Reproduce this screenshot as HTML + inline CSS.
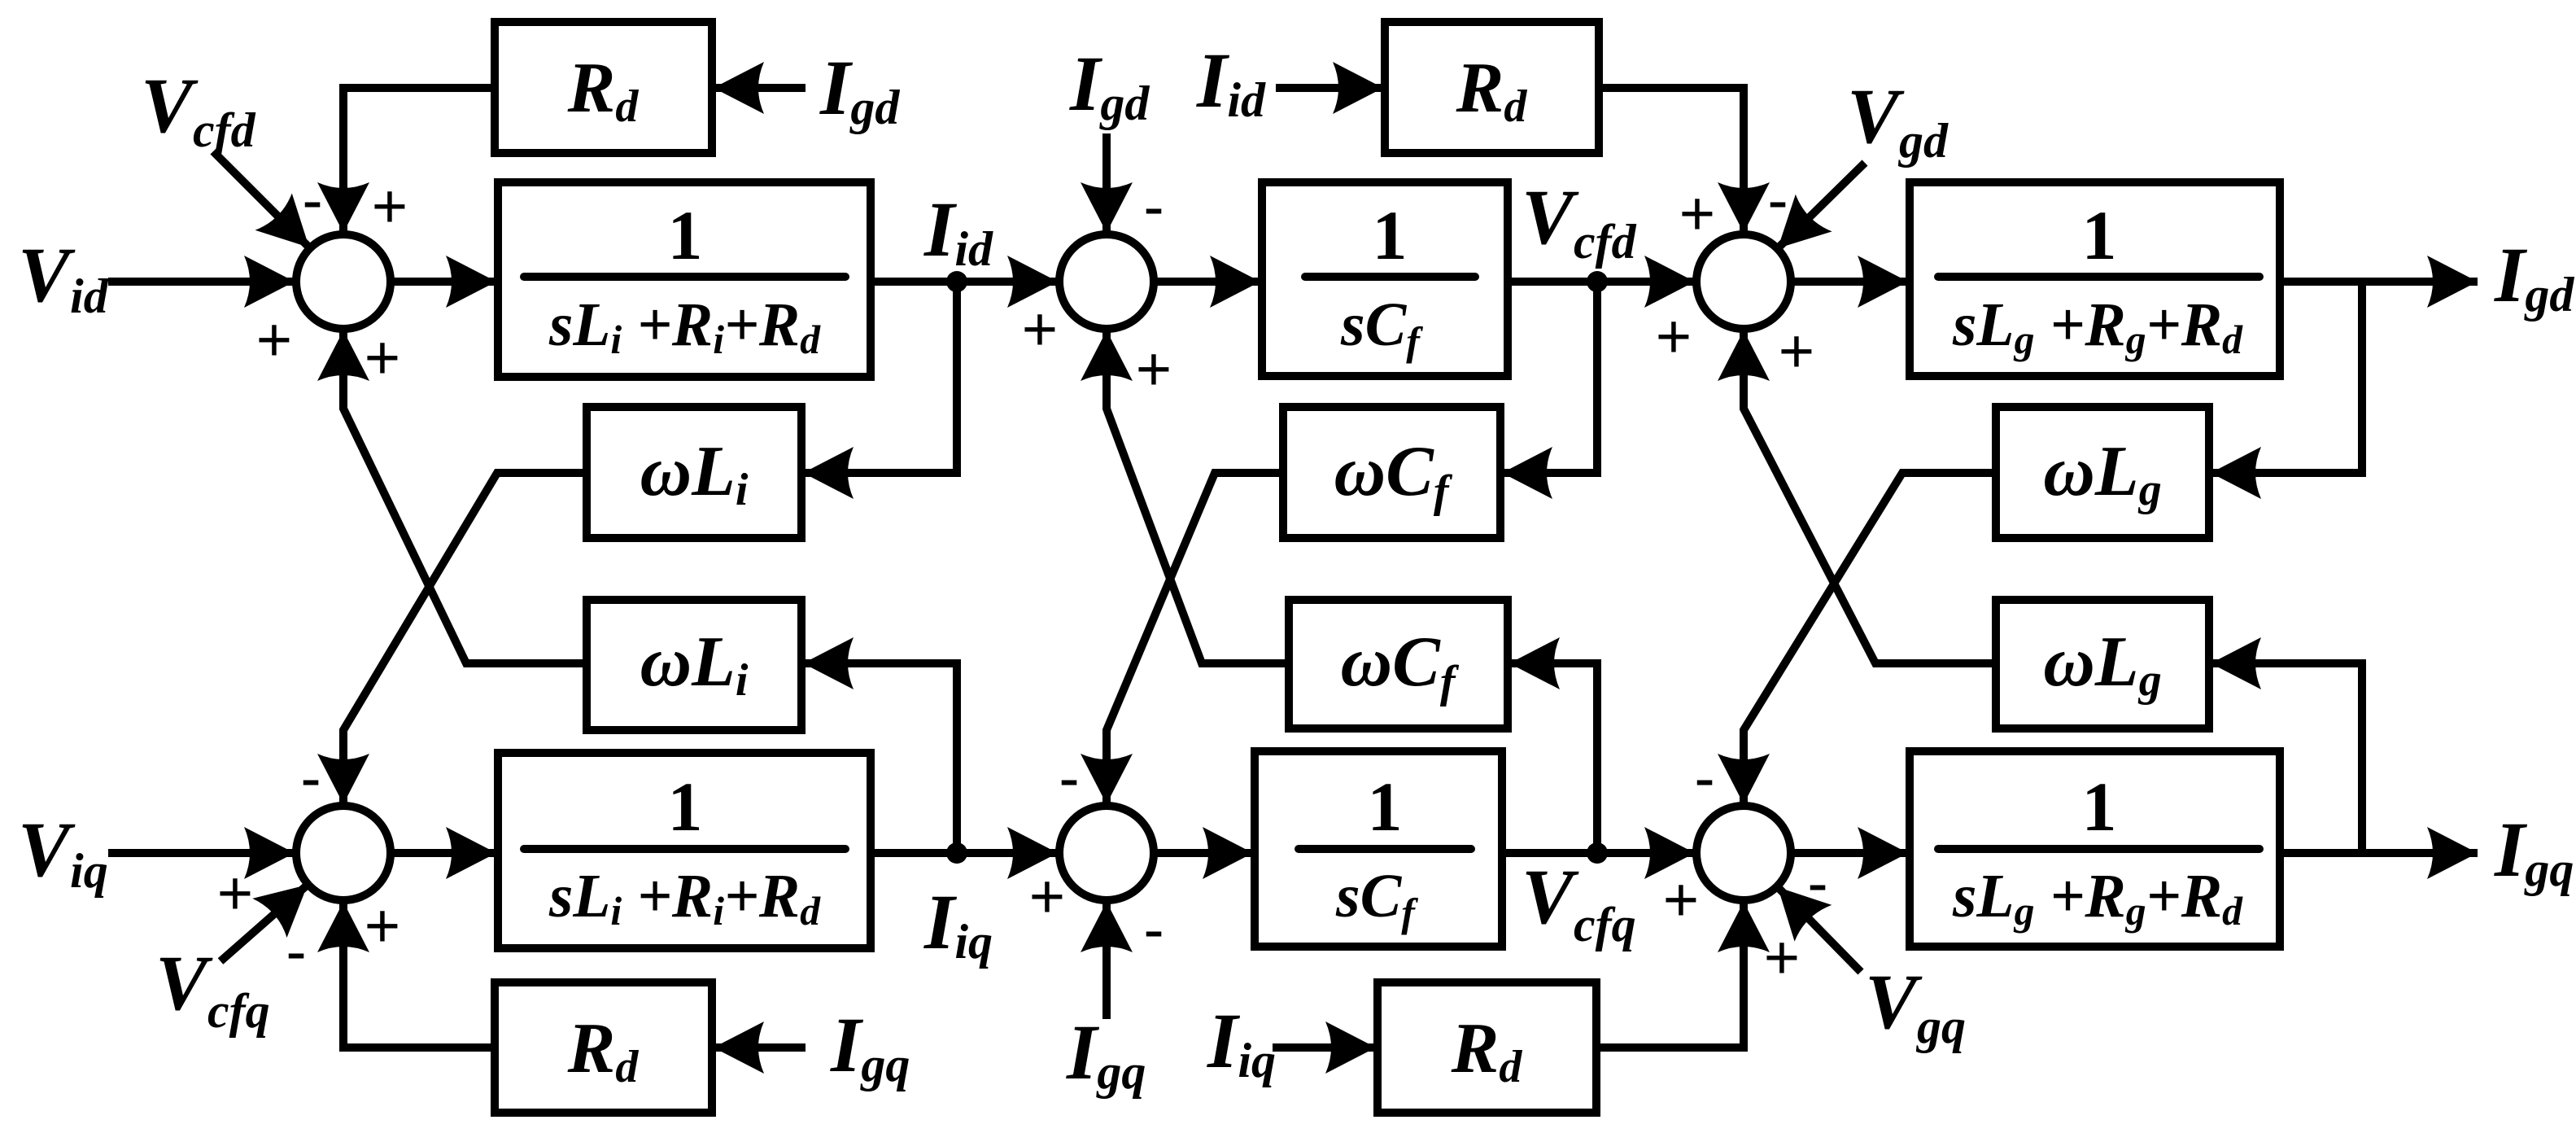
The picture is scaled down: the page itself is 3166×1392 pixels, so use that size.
<!DOCTYPE html>
<html><head><meta charset="utf-8"><style>
html,body{margin:0;padding:0;background:#fff;}
svg{display:block;}
text{font-family:"Liberation Serif","Times New Roman","DejaVu Serif",serif;font-weight:bold;font-style:italic;fill:#000;}
text.u{font-style:normal;}
text.s{font-style:normal;font-family:"Liberation Sans","DejaVu Sans",sans-serif;font-weight:normal;}
</style></head><body>
<svg width="3166" height="1392" viewBox="0 0 3166 1392" xmlns="http://www.w3.org/2000/svg">
<defs>
<marker id="a" markerUnits="userSpaceOnUse" markerWidth="80" markerHeight="80" viewBox="-70 -40 80 80" refX="0" refY="0" orient="auto">
<path d="M0,0 L-62,-32 Q-48,0 -62,32 Z" fill="#000"/>
</marker>
</defs>
<g fill="none" stroke="#000" stroke-width="10" stroke-linejoin="miter">
<circle cx="422" cy="346" r="58"/><circle cx="1360" cy="346" r="58"/><circle cx="2143" cy="346" r="58"/>
<circle cx="422" cy="1048" r="58"/><circle cx="1360" cy="1048" r="58"/><circle cx="2143" cy="1048" r="58"/>
<rect x="608" y="27" width="267" height="161"/>
<rect x="612" y="224" width="458" height="239"/>
<rect x="721" y="500" width="264" height="161"/>
<rect x="721" y="737" width="264" height="160"/>
<rect x="612" y="925" width="458" height="240"/>
<rect x="608" y="1207" width="267" height="160"/>
<rect x="1702" y="27" width="263" height="161"/>
<rect x="1551" y="224" width="302" height="238"/>
<rect x="1577" y="500" width="267" height="161"/>
<rect x="1584" y="737" width="269" height="158"/>
<rect x="1542" y="923" width="304" height="240"/>
<rect x="1693" y="1207" width="269" height="160"/>
<rect x="2347" y="224" width="455" height="238"/>
<rect x="2453" y="500" width="262" height="161"/>
<rect x="2453" y="737" width="262" height="158"/>
<rect x="2347" y="923" width="455" height="240"/>
<g stroke-linecap="round">
<line x1="644" y1="340" x2="1039" y2="340"/><line x1="644" y1="1043" x2="1039" y2="1043"/>
<line x1="1604" y1="340" x2="1813" y2="340"/><line x1="1596" y1="1043" x2="1808" y2="1043"/>
<line x1="2382" y1="340" x2="2777" y2="340"/><line x1="2382" y1="1043" x2="2777" y2="1043"/>
</g>
<line x1="990" y1="108" x2="877" y2="108" marker-end="url(#a)"/>
<polyline points="608,108 422,108 422,286" marker-end="url(#a)"/>
<line x1="262" y1="186" x2="380" y2="304" marker-end="url(#a)"/>
<line x1="133" y1="346" x2="362" y2="346" marker-end="url(#a)"/>
<line x1="482" y1="346" x2="610" y2="346" marker-end="url(#a)"/>
<line x1="1070" y1="346" x2="1300" y2="346" marker-end="url(#a)"/>
<polyline points="1176,346 1176,581 987,581" marker-end="url(#a)"/>
<polyline points="721,581 611,581 422,897 422,988" marker-end="url(#a)"/>
<polyline points="721,815 573,815 422,502 422,406" marker-end="url(#a)"/>
<polyline points="1176,1048 1176,815 987,815" marker-end="url(#a)"/>
<line x1="133" y1="1048" x2="362" y2="1048" marker-end="url(#a)"/>
<line x1="482" y1="1048" x2="610" y2="1048" marker-end="url(#a)"/>
<line x1="1070" y1="1048" x2="1300" y2="1048" marker-end="url(#a)"/>
<line x1="271" y1="1181" x2="378" y2="1087" marker-end="url(#a)"/>
<line x1="990" y1="1287" x2="877" y2="1287" marker-end="url(#a)"/>
<polyline points="608,1287 422,1287 422,1108" marker-end="url(#a)"/>
<line x1="1360" y1="164" x2="1360" y2="286" marker-end="url(#a)"/>
<line x1="1420" y1="346" x2="1549" y2="346" marker-end="url(#a)"/>
<line x1="1853" y1="346" x2="2083" y2="346" marker-end="url(#a)"/>
<polyline points="1963,346 1963,581 1846,581" marker-end="url(#a)"/>
<polyline points="1577,581 1493,581 1360,897 1360,988" marker-end="url(#a)"/>
<polyline points="1584,815 1477,815 1360,502 1360,406" marker-end="url(#a)"/>
<polyline points="1963,1048 1963,815 1855,815" marker-end="url(#a)"/>
<line x1="1360" y1="1252" x2="1360" y2="1108" marker-end="url(#a)"/>
<line x1="1420" y1="1048" x2="1540" y2="1048" marker-end="url(#a)"/>
<line x1="1846" y1="1048" x2="2083" y2="1048" marker-end="url(#a)"/>
<line x1="1568" y1="108" x2="1700" y2="108" marker-end="url(#a)"/>
<polyline points="1965,108 2143,108 2143,286" marker-end="url(#a)"/>
<line x1="1564" y1="1287" x2="1691" y2="1287" marker-end="url(#a)"/>
<polyline points="1962,1287 2143,1287 2143,1108" marker-end="url(#a)"/>
<line x1="2292" y1="200" x2="2185" y2="305" marker-end="url(#a)"/>
<line x1="2287" y1="1194" x2="2185" y2="1090" marker-end="url(#a)"/>
<line x1="2203" y1="346" x2="2345" y2="346" marker-end="url(#a)"/>
<line x1="2802" y1="346" x2="3045" y2="346" marker-end="url(#a)"/>
<polyline points="2903,346 2903,581 2717,581" marker-end="url(#a)"/>
<polyline points="2453,581 2338,581 2143,897 2143,988" marker-end="url(#a)"/>
<polyline points="2453,815 2305,815 2143,502 2143,406" marker-end="url(#a)"/>
<line x1="2203" y1="1048" x2="2345" y2="1048" marker-end="url(#a)"/>
<line x1="2802" y1="1048" x2="3045" y2="1048" marker-end="url(#a)"/>
<polyline points="2903,1048 2903,815 2717,815" marker-end="url(#a)"/>
</g>
<g fill="#000">
<circle cx="1176" cy="346" r="13"/><circle cx="1176" cy="1048" r="13"/>
<circle cx="1963" cy="346" r="13"/><circle cx="1963" cy="1048" r="13"/>
</g>
<g font-size="88" text-anchor="middle">
<text x="741" y="137">R<tspan font-size="56" dy="12">d</tspan></text>
<text x="741" y="1317">R<tspan font-size="56" dy="12">d</tspan></text>
<text x="1833" y="137">R<tspan font-size="56" dy="12">d</tspan></text>
<text x="1827" y="1317">R<tspan font-size="56" dy="12">d</tspan></text>
<text x="853" y="608">ωL<tspan font-size="56" dy="12">i</tspan></text>
<text x="853" y="842">ωL<tspan font-size="56" dy="12">i</tspan></text>
<text x="1710" y="608">ωC<tspan font-size="56" dy="14">f</tspan></text>
<text x="1718" y="842">ωC<tspan font-size="56" dy="14">f</tspan></text>
<text x="2584" y="608">ωL<tspan font-size="56" dy="12">g</tspan></text>
<text x="2584" y="842">ωL<tspan font-size="56" dy="12">g</tspan></text>
</g>
<g font-size="86" text-anchor="middle">
<text class="u" x="842" y="318">1</text><text class="u" x="842" y="1020">1</text>
<text class="u" x="1708" y="318">1</text><text class="u" x="1702" y="1020">1</text>
<text class="u" x="2580" y="318">1</text><text class="u" x="2580" y="1020">1</text>
</g>
<g font-size="76">
<text x="675" y="424" textLength="333" lengthAdjust="spacingAndGlyphs">sL<tspan font-size="50" dy="10">i</tspan><tspan dy="-10"> +R</tspan><tspan font-size="50" dy="10">i</tspan><tspan dy="-10">+R</tspan><tspan font-size="50" dy="10">d</tspan></text>
<text x="675" y="1126" textLength="333" lengthAdjust="spacingAndGlyphs">sL<tspan font-size="50" dy="10">i</tspan><tspan dy="-10"> +R</tspan><tspan font-size="50" dy="10">i</tspan><tspan dy="-10">+R</tspan><tspan font-size="50" dy="10">d</tspan></text>
<text x="2400" y="424" textLength="356" lengthAdjust="spacingAndGlyphs">sL<tspan font-size="50" dy="10">g</tspan><tspan dy="-10"> +R</tspan><tspan font-size="50" dy="10">g</tspan><tspan dy="-10">+R</tspan><tspan font-size="50" dy="10">d</tspan></text>
<text x="2400" y="1126" textLength="356" lengthAdjust="spacingAndGlyphs">sL<tspan font-size="50" dy="10">g</tspan><tspan dy="-10"> +R</tspan><tspan font-size="50" dy="10">g</tspan><tspan dy="-10">+R</tspan><tspan font-size="50" dy="10">d</tspan></text>
<text x="1648" y="424">sC<tspan font-size="50" dy="12">f</tspan></text>
<text x="1642" y="1126">sC<tspan font-size="50" dy="12">f</tspan></text>
</g>
<g font-size="96">
<text x="22" y="370">V<tspan font-size="60" dy="14">id</tspan></text>
<text x="22" y="1076">V<tspan font-size="60" dy="14">iq</tspan></text>
<text x="173" y="162">V<tspan font-size="60" dy="18">cfd</tspan></text>
<text x="191" y="1240">V<tspan font-size="60" dy="22">cfq</tspan></text>
<text x="1008" y="140">I<tspan font-size="60" dy="12">gd</tspan></text>
<text x="1021" y="1316">I<tspan font-size="60" dy="12">gq</tspan></text>
<text x="1136" y="314">I<tspan font-size="60" dy="12">id</tspan></text>
<text x="1136" y="1165">I<tspan font-size="60" dy="12">iq</tspan></text>
<text x="1315" y="135">I<tspan font-size="60" dy="12">gd</tspan></text>
<text x="1311" y="1325">I<tspan font-size="60" dy="12">gq</tspan></text>
<text x="1471" y="131">I<tspan font-size="60" dy="12">id</tspan></text>
<text x="1484" y="1311">I<tspan font-size="60" dy="12">iq</tspan></text>
<text x="1870" y="299">V<tspan font-size="60" dy="18">cfd</tspan></text>
<text x="1870" y="1134">V<tspan font-size="60" dy="22">cfq</tspan></text>
<text x="2270" y="175">V<tspan font-size="60" dy="18">gd</tspan></text>
<text x="2292" y="1263">V<tspan font-size="60" dy="18">gq</tspan></text>
<text x="3066" y="370">I<tspan font-size="60" dy="12">gd</tspan></text>
<text x="3066" y="1076">I<tspan font-size="60" dy="12">gq</tspan></text>
</g>
<g font-size="76" text-anchor="middle">
<text class="s" x="384" y="272">-</text><text class="s" x="479" y="279">+</text>
<text class="s" x="337" y="443">+</text><text class="s" x="470" y="465">+</text>
<text class="s" x="382" y="982">-</text><text class="s" x="289" y="1123">+</text>
<text class="s" x="364" y="1195">-</text><text class="s" x="470" y="1163">+</text>
<text class="s" x="1418" y="280">-</text><text class="s" x="1278" y="430">+</text><text class="s" x="1418" y="479">+</text>
<text class="s" x="1314" y="982">-</text><text class="s" x="1287" y="1127">+</text><text class="s" x="1418" y="1168">-</text>
<text class="s" x="2086" y="288">+</text><text class="s" x="2185" y="272">-</text>
<text class="s" x="2057" y="439">+</text><text class="s" x="2208" y="457">+</text>
<text class="s" x="2095" y="982">-</text><text class="s" x="2066" y="1131">+</text>
<text class="s" x="2234" y="1111">-</text><text class="s" x="2190" y="1202">+</text>
</g>
</svg>
</body></html>
